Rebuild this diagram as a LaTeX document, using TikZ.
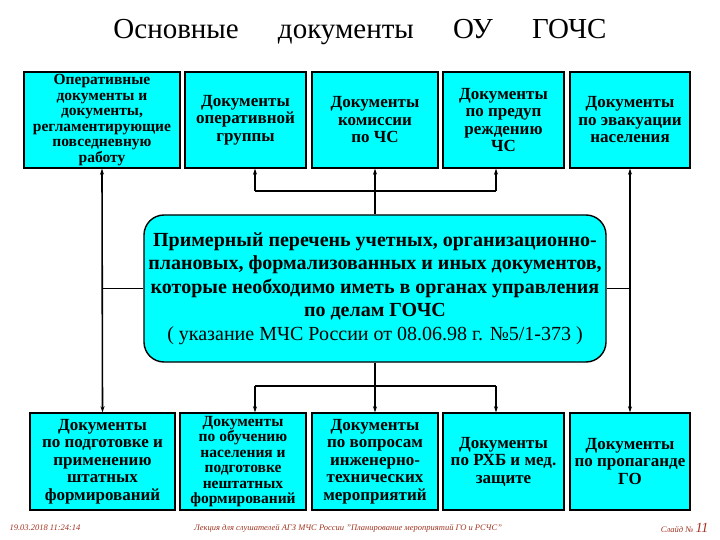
\documentclass[tikz,border=0pt]{standalone}
\usepackage{fontspec}
\setmainfont{Liberation Serif}[BoldFont={Liberation Serif Bold},ItalicFont={Liberation Serif Italic}]
\usetikzlibrary{arrows.meta,positioning}
\definecolor{docaqua}{RGB}{0,255,255}
\definecolor{footred}{RGB}{160,50,30}
\tikzset{
  docbox/.style={draw=black,line width=1.4pt,fill=docaqua,align=center,inner sep=0pt,
    font=\bfseries\fontsize{17}{17.5}\selectfont},
  tightbox/.style={docbox,font=\bfseries\fontsize{15.5}{15.5}\selectfont},
  outerlink/.style={line width=1.6pt,{Stealth[length=6pt,width=4pt]}-{Stealth[length=6pt,width=4pt]}},
  innerlink/.style={line width=1.1pt},
  tip/.style={-{Stealth[length=6pt,width=4pt]}},
  foot/.style={font=\itshape\fontsize{8.5}{10}\selectfont,text=footred},
}
\newcommand{\topdoc}[5][docbox]{%
  \node[#1,minimum width=#4pt,minimum height=96pt] (#2) at (#3,120) {#5};
}
\newcommand{\lowdoc}[5][docbox]{%
  \node[#1,minimum width=#4pt,minimum height=97pt] (#2) at (#3,461.5) {#5};
}
\begin{document}
\begin{tikzpicture}[x=1pt,y=-1pt]
  \useasboundingbox (0,0) rectangle (720,540);
  \node (title) at (360,32) {\fontsize{29}{30}\selectfont Основные\hspace{1.35em}документы\hspace{1.35em}ОУ\hspace{1.35em}ГОЧС};
  \topdoc[tightbox]{t1}{102}{156}{Оперативные\\документы и\\документы,\\регламентирующие\\повседневную\\работу}
  \topdoc{t2}{245.5}{121}{Документы\\оперативной\\группы}
  \topdoc{t3}{375}{126}{Документы\\комиссии\\по ЧС}
  \topdoc{t4}{503.5}{121}{Документы\\по предуп\\реждению\\ЧС}
  \topdoc{t5}{630}{120}{Документы\\по эвакуации\\населения}
  \lowdoc{b1}{102.5}{145}{Документы\\по подготовке и\\применению\\штатных\\формирований}
  \lowdoc[tightbox]{b2}{243}{126}{Документы\\по обучению\\населения и\\подготовке\\нештатных\\формирований}
  \lowdoc{b3}{375}{126}{Документы\\по вопросам\\инженерно-\\технических\\мероприятий}
  \lowdoc{b4}{503.5}{121}{Документы\\по РХБ и мед.\\защите}
  \lowdoc{b5}{630}{120}{Документы\\по пропаганде\\ГО}
  \node[docbox,rounded corners=20pt,minimum width=462pt,minimum height=147pt,
    font=\fontsize{20}{23.5}\selectfont] (main) at (375,288.5)
    {\bfseries Примерный перечень учетных, организационно-\\
     \bfseries плановых, формализованных и иных документов,\\
     \bfseries которые необходимо иметь в органах управления\\
     \bfseries по делам ГОЧС\\
     ( указание МЧС России от 08.06.98 г. №5/1-373 )};
  \coordinate (upL) at (255,191);
  \coordinate (upR) at (496,191);
  \coordinate (dnL) at (255,386);
  \coordinate (dnR) at (496,386);
  \draw[outerlink] (t1.south) -- (b1.north);
  \draw[outerlink] (t5.south) -- (b5.north);
  \draw[line width=1.6pt] (main.west) -- (main.west -| t1.south);
  \draw[line width=1.6pt] (main.east) -- (main.east -| t5.south);
  \draw[innerlink,tip] (main.north) -- (t3.south);
  \draw[innerlink,tip] (upL) -- (upL |- t2.south);
  \draw[innerlink,tip] (upR) -- (upR |- t4.south);
  \draw[innerlink] (upL) -- (upR);
  \draw[innerlink,tip] (main.south) -- (b3.north);
  \draw[innerlink,tip] (dnL) -- (dnL |- b2.north);
  \draw[innerlink,tip] (dnR) -- (dnR |- b4.north);
  \draw[innerlink] (dnL) -- (dnR);
  \node[foot,anchor=west] (date) at (6,528) {19.03.2018 11:24:14};
  \node[foot] (lecture) at (348,528) {Лекция для слушателей АГЗ МЧС России "Планирование мероприятий ГО и РСЧС"};
  \node[foot,anchor=east] (slide) at (712,528) {Слайд № {\fontsize{14}{14}\selectfont 11}};
\end{tikzpicture}
\end{document}
